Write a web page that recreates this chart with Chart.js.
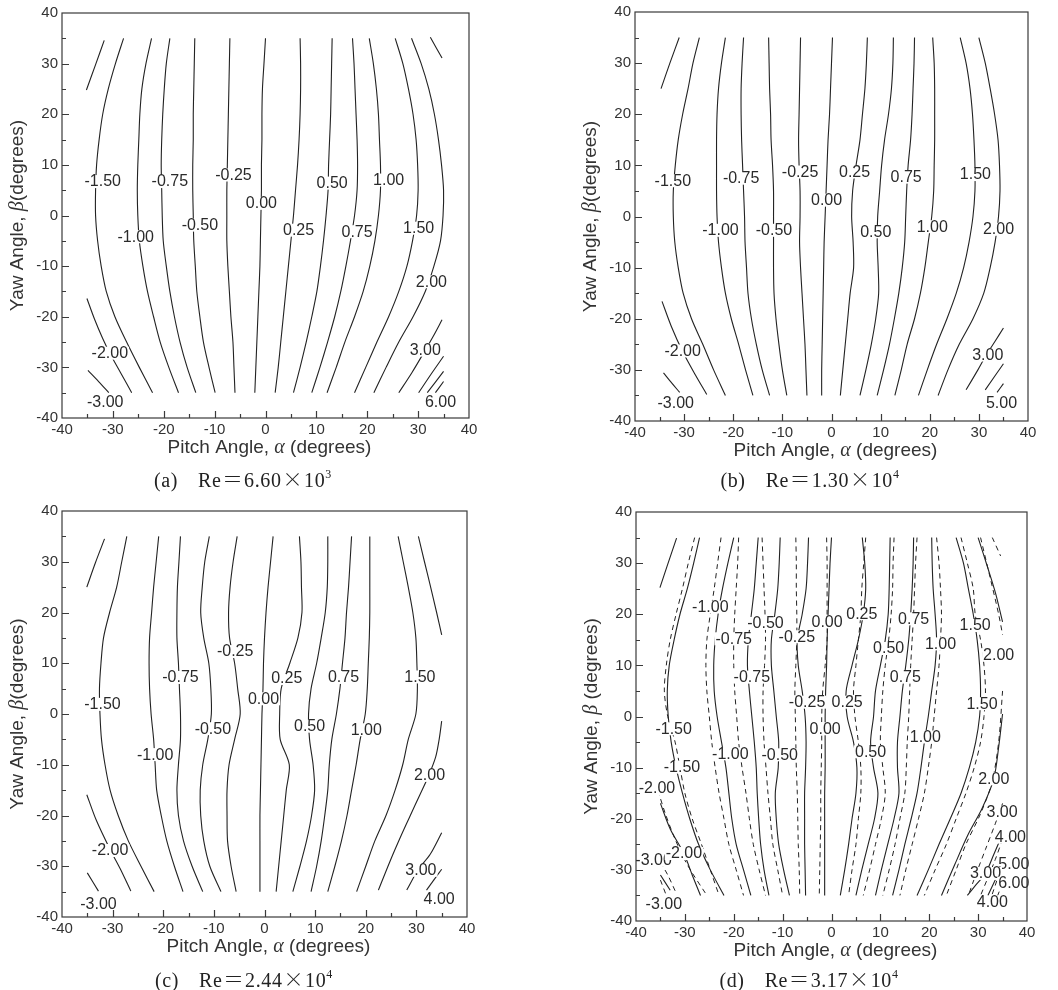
<!DOCTYPE html>
<html>
<head>
<meta charset="utf-8">
<script src="https://cdn.jsdelivr.net/npm/chart.js@4.4.1/dist/chart.umd.min.js"></script>
<style>
  html, body { margin: 0; padding: 0; background: #fff; }
  #page { position: relative; width: 1058px; height: 990px; overflow: hidden; background: #fff; }
  canvas { position: absolute; }
  .cap { position: absolute; z-index: 2; transform: translate(-50%, -50%); white-space: nowrap;
         font-family: "Liberation Serif", "Noto Sans CJK SC", serif; font-size: 20px; color: #222;
         letter-spacing: 0.6px; }
  .cap .gap { display: inline-block; width: 20px; }
  .cap .op { display: inline-block; margin: 0 1px; font-family: "Noto Sans CJK SC", serif; font-weight: 300; }
  .cap sup { font-size: 12px; vertical-align: 9px; line-height: 0; }
</style>
</head>
<body>
<div id="page">
  <canvas id="pa"></canvas>
  <canvas id="pb"></canvas>
  <canvas id="pc"></canvas>
  <canvas id="pd"></canvas>
  <div class="cap" style="left:243px;top:478px">(a)<span class="gap"></span>Re<span class="op">＝</span>6.60<span class="op">×</span>10<sup>3</sup></div>
  <div class="cap" style="left:810px;top:478px">(b)<span class="gap"></span>Re<span class="op">＝</span>1.30<span class="op">×</span>10<sup>4</sup></div>
  <div class="cap" style="left:244px;top:978px">(c)<span class="gap"></span>Re<span class="op">＝</span>2.44<span class="op">×</span>10<sup>4</sup></div>
  <div class="cap" style="left:809px;top:978px">(d)<span class="gap"></span>Re<span class="op">＝</span>3.17<span class="op">×</span>10<sup>4</sup></div>
</div>
<script>
// yaw angle levels where every full contour line is sampled
const yLevels = [35, 30, 25, 20, 15, 10, 5, 0, -5, -10, -15, -20, -25, -30, -35];

// (a) Re = 6.60e3 : pitch angle of each contour at the levels above
// order: -1.50 -1.00 -0.75 -0.50 -0.25 0.00 0.25 0.50 0.75 1.00 1.50 2.00
const aLineX = [
  [-27.9,-29.5,-30.9,-32.0,-32.7,-33.2,-33.4,-33.4,-33.0,-32.3,-31.3,-29.6,-27.3,-24.8,-22.2],
  [-22.4,-23.5,-24.3,-24.7,-24.9,-25.1,-25.2,-25.1,-24.8,-24.1,-23.2,-22.0,-20.7,-19.0,-17.1],
  [-18.8,-19.5,-19.9,-20.2,-20.4,-20.5,-20.4,-20.3,-20.1,-19.5,-18.8,-17.9,-16.8,-15.4,-13.7],
  [-13.9,-14.0,-14.1,-14.2,-14.2,-14.3,-14.3,-14.2,-14.1,-13.8,-13.5,-12.9,-12.2,-11.1,-9.9],
  [-7.0,-7.1,-7.2,-7.3,-7.4,-7.5,-7.6,-7.6,-7.6,-7.4,-7.1,-6.8,-6.4,-6.2,-6.0],
  [0.0,-0.3,-0.6,-0.7,-0.7,-0.8,-0.8,-0.9,-1.0,-1.1,-1.3,-1.5,-1.7,-1.9,-2.1],
  [6.8,6.9,6.9,6.8,6.6,6.3,5.9,5.5,5.0,4.5,4.0,3.5,3.0,2.5,1.9],
  [13.1,13.0,12.9,12.8,12.6,12.4,12.3,11.9,11.4,10.8,10.1,9.1,8.0,6.8,5.5],
  [17.1,17.4,17.6,17.8,18.0,18.1,18.0,17.5,16.7,15.8,14.8,13.6,12.2,10.7,9.1],
  [20.4,21.2,21.8,22.2,22.4,22.6,22.6,22.2,21.5,20.5,19.2,17.5,15.6,13.9,12.1],
  [25.5,27.0,28.1,29.0,29.6,29.9,30.0,29.7,28.9,27.8,26.2,24.2,21.9,19.7,17.5],
  [28.7,30.6,32.1,33.2,34.0,34.6,35.0,34.9,34.4,33.1,31.4,29.0,26.2,23.7,21.3]
];
// short contour pieces near the corners, [pitch, yaw] pairs
const aPartial = [
  [[-31.7,34.6],[-33.4,29.8],[-35.2,24.8]],
  [[32.4,35.2],[34.7,31.1]],
  [[-35.1,-16.4],[-33.6,-20.5],[-32.0,-24.3],[-30.6,-27.2],[-28.4,-31.2],[-26.3,-35.0]],
  [[-34.9,-30.6],[-32.8,-32.8],[-30.8,-35.0]],
  [[34.7,-20.6],[33.0,-23.8],[31.4,-26.6],[28.8,-31.0],[26.2,-35.0]],
  [[35.0,-27.8],[32.5,-31.4],[30.1,-35.0]],
  [[35.0,-30.8],[31.8,-35.0]],
  [[35.0,-32.8],[33.4,-35.0]]
];
const aLabelText = ['-1.50','-0.75','-0.25','-1.00','-0.50','0.00','0.25','0.50','0.75','1.00','1.50','2.00','3.00','6.00','-2.00','-3.00'];
const aLabelX = [-32.0,-18.8,-6.3,-25.5,-12.9,-0.8,6.5,13.1,18.0,24.2,30.1,32.6,31.4,34.4,-30.6,-31.5];
const aLabelY = [6.7,6.7,8.0,-4.2,-1.9,2.4,-2.9,6.4,-3.2,7.0,-2.5,-13.1,-26.6,-36.8,-27.2,-36.8];

// (b) Re = 1.30e4
const bLineX = [
  [-26.9,-28.2,-29.2,-30.3,-31.2,-31.8,-32.2,-32.2,-31.9,-31.2,-30.2,-28.5,-26.2,-24.0,-21.6],
  [-21.6,-22.4,-23.0,-23.3,-23.4,-23.4,-23.4,-23.3,-23.0,-22.4,-21.6,-20.4,-18.9,-17.5,-16.0],
  [-17.9,-18.2,-18.4,-18.4,-18.3,-18.1,-17.9,-17.7,-17.6,-17.3,-17.0,-16.3,-15.3,-14.1,-12.6],
  [-12.8,-12.7,-12.6,-12.4,-12.3,-12.0,-11.8,-11.8,-11.8,-11.8,-11.7,-11.3,-10.7,-10.0,-9.1],
  [-6.3,-6.4,-6.5,-6.6,-6.7,-6.6,-6.4,-6.4,-6.5,-6.3,-6.0,-5.7,-5.4,-5.2,-5.0],
  [0.2,0.0,-0.2,-0.4,-0.7,-0.9,-1.1,-1.3,-1.5,-1.6,-1.7,-1.8,-1.9,-2.0,-2.0],
  [7.3,7.1,6.8,6.3,5.8,5.0,4.3,4.1,4.4,4.5,3.8,3.3,2.8,2.3,1.8],
  [12.6,12.5,12.2,11.6,10.8,10.2,9.8,9.4,9.3,9.5,9.6,9.0,8.1,7.0,5.8],
  [16.9,16.8,16.6,16.4,16.1,15.6,15.3,15.1,14.9,14.4,13.7,12.8,11.8,10.6,9.3],
  [20.6,20.9,21.0,21.0,21.0,20.9,20.8,20.4,19.7,19.0,18.1,16.9,15.4,14.2,12.9],
  [26.2,27.4,28.2,28.7,29.0,29.2,29.2,28.8,28.0,26.9,25.4,23.5,21.4,19.5,17.7],
  [30.0,31.3,32.3,33.2,33.9,34.2,34.3,34.0,33.3,32.3,31.0,28.8,26.0,23.7,21.7]
];
const bPartial = [
  [[-31.0,35.0],[-32.9,30.0],[-34.7,25.0]],
  [[-34.5,-16.6],[-32.6,-21.5],[-30.3,-26.4],[-27.7,-31.0],[-25.4,-34.8]],
  [[-34.2,-30.6],[-32.5,-32.6],[-30.9,-34.4]],
  [[35.0,-21.8],[33.3,-24.4],[31.5,-27.1],[29.8,-30.0],[27.4,-33.9]],
  [[35.0,-28.8],[31.3,-33.9]],
  [[35.0,-32.7],[33.7,-34.4]]
];
const bLabelText = ['-1.50','-0.75','-0.25','-1.00','-0.50','0.00','0.25','0.50','0.75','1.00','1.50','2.00','3.00','5.00','-2.00','-3.00'];
const bLabelX = [-32.3,-18.4,-6.4,-22.6,-11.7,-1.0,4.7,9.0,15.2,20.5,29.3,34.0,31.8,34.6,-30.3,-31.7];
const bLabelY = [7.0,7.5,8.7,-2.7,-2.7,3.2,8.7,-3.0,7.7,-2.0,8.2,-2.5,-27.1,-36.5,-26.3,-36.4];

// (c) Re = 2.44e4 : -1.50 -1.00 -0.75 -0.50 -0.25 0.00 0.25 0.50 0.75 1.00 1.50
const cLineX = [
  [-27.2,-28.2,-29.2,-30.6,-31.8,-32.3,-32.6,-32.5,-32.2,-31.5,-30.5,-28.9,-26.9,-24.4,-21.8],
  [-20.9,-21.4,-21.9,-22.3,-22.7,-22.8,-22.7,-22.4,-21.9,-21.6,-21.3,-20.4,-19.3,-17.8,-16.1],
  [-16.6,-16.9,-17.2,-17.3,-17.3,-17.0,-16.8,-16.6,-16.6,-17.0,-17.3,-17.0,-16.0,-14.3,-12.2],
  [-10.9,-11.8,-12.3,-12.6,-12.0,-11.0,-10.6,-10.5,-11.2,-12.2,-12.7,-12.6,-12.0,-10.8,-8.6],
  [-5.4,-6.2,-6.8,-7.1,-6.9,-5.9,-5.3,-4.8,-5.9,-7.0,-7.4,-7.4,-7.3,-6.6,-5.6],
  [1.7,1.2,0.7,0.3,0.0,-0.2,-0.3,-0.5,-0.6,-0.7,-0.8,-0.9,-0.9,-0.9,-0.9],
  [6.9,7.2,7.3,7.4,6.6,5.0,3.3,3.0,3.1,4.9,4.3,3.8,3.3,2.8,2.3],
  [12.5,12.5,12.4,12.0,11.2,10.3,9.2,8.7,8.9,9.6,9.9,9.3,8.3,7.0,5.6],
  [17.2,16.9,16.6,16.2,15.9,15.4,14.9,14.2,13.3,12.8,12.5,11.9,11.2,10.3,9.2],
  [20.8,20.8,20.8,20.8,20.7,20.5,20.3,19.9,18.9,18.1,17.2,16.3,15.2,13.9,12.5],
  [26.4,27.4,28.4,29.3,29.9,30.1,30.2,29.9,28.4,27.3,25.8,24.0,21.8,20.0,18.2]
];
const cPartial = [
  [[-31.6,34.5],[-33.4,29.8],[-35.1,25.0]],
  [[30.4,35.0],[31.6,30.0],[32.7,25.5],[34.0,20.0],[35.0,15.6]],
  [[35.0,-1.4],[34.5,-5.0],[33.8,-8.5],[32.4,-12.2],[30.7,-15.9],[28.8,-20.0],[27.1,-23.7],[24.8,-29.0],[22.5,-34.7]],
  [[35.0,-23.4],[32.7,-27.7],[30.4,-30.6],[28.1,-34.7]],
  [[35.0,-30.6],[32.0,-34.7]],
  [[-35.1,-15.9],[-33.2,-21.0],[-30.5,-26.7],[-28.5,-30.5],[-26.4,-34.9]],
  [[-35.0,-31.3],[-32.8,-34.9]]
];
const cLabelText = ['-1.50','-0.75','-0.25','-1.00','-0.50','0.00','0.25','0.50','0.75','1.00','1.50','2.00','3.00','4.00','-2.00','-3.00'];
const cLabelX = [-32.0,-16.6,-5.8,-21.6,-10.2,-0.2,4.4,8.9,15.6,20.1,30.7,32.6,30.9,34.5,-30.5,-32.8];
const cLabelY = [1.9,7.2,12.3,-8.0,-2.9,3.0,7.0,-2.4,7.2,-3.1,7.3,-12.1,-30.8,-36.4,-26.9,-37.4];

// (d) Re = 3.17e4 : solid and dashed contour sets
const dLineX = [
  [-27.0,-28.2,-29.5,-31.0,-32.2,-33.2,-33.6,-33.4,-32.8,-31.8,-30.5,-29.0,-27.2,-24.8,-22.0],
  [-20.0,-21.2,-22.3,-23.2,-23.8,-24.1,-24.0,-23.4,-22.5,-21.6,-21.0,-20.4,-19.5,-18.0,-16.5],
  [-15.0,-15.4,-15.8,-16.4,-17.0,-17.2,-16.8,-16.3,-15.8,-15.4,-15.2,-14.9,-14.5,-13.8,-12.8],
  [-10.5,-10.7,-11.0,-11.6,-12.3,-12.3,-11.8,-11.3,-10.8,-10.9,-11.5,-11.3,-10.8,-9.8,-8.6],
  [-4.7,-4.9,-5.2,-6.0,-7.0,-6.8,-6.0,-5.4,-5.2,-5.3,-5.5,-5.5,-5.5,-5.4,-5.3],
  [0.0,-0.3,-0.5,-0.7,-0.9,-1.0,-1.2,-1.3,-1.3,-1.3,-1.4,-1.4,-1.4,-1.4,-1.4],
  [6.3,6.8,7.0,6.5,5.5,4.2,3.0,3.2,4.5,5.2,5.0,4.2,3.5,2.7,1.8],
  [12.0,11.9,11.8,11.6,11.0,10.0,9.0,8.6,8.0,8.6,9.5,8.8,7.5,6.2,5.0],
  [16.8,16.7,16.5,16.2,15.8,15.2,14.5,14.0,13.5,13.5,13.8,12.8,11.5,10.2,9.0],
  [20.5,20.6,20.8,21.2,21.5,21.2,20.5,19.8,19.0,18.3,17.5,16.3,15.0,13.8,12.5],
  [25.5,27.0,28.0,29.0,29.8,30.3,30.5,30.3,29.5,28.2,26.5,24.3,22.0,19.8,17.5]
];
const dPartial = [
  [[-31.7,34.9],[-33.5,29.8],[-35.1,25.2]],
  [[30.0,35.0],[32.0,29.0],[33.6,24.0],[35.0,18.5]],
  [[35.0,0.5],[34.2,-6.0],[33.2,-12.2],[30.8,-18.0],[28.0,-23.0],[25.2,-29.0],[22.5,-35.0]],
  [[35.0,-23.0],[33.2,-27.0],[31.5,-30.7],[29.5,-33.0],[27.8,-35.0]],
  [[35.0,-29.0],[33.5,-32.0],[32.0,-35.0]],
  [[-35.0,-17.0],[-33.0,-22.0],[-30.2,-26.8],[-28.5,-31.0],[-26.8,-35.0]],
  [[-35.0,-31.0],[-33.0,-34.0]]
];
const dDashX = [
  [-28.0,-29.3,-30.5,-31.8,-33.0,-33.8,-34.2,-33.5,-32.0,-31.0,-30.0,-28.5,-26.6,-24.8,-23.0],
  [-22.6,-23.3,-24.0,-24.8,-25.5,-25.7,-25.5,-25.0,-24.5,-23.8,-23.0,-22.0,-21.0,-19.5,-18.0],
  [-19.0,-19.2,-19.5,-19.8,-20.0,-20.0,-19.8,-19.4,-19.0,-18.3,-17.5,-16.8,-16.0,-14.8,-13.5],
  [-14.2,-14.0,-13.8,-13.6,-13.5,-13.7,-14.0,-14.0,-13.8,-13.4,-13.0,-12.5,-12.0,-11.0,-10.0],
  [-7.3,-7.2,-7.2,-7.1,-7.1,-7.3,-7.5,-7.4,-7.3,-7.2,-7.0,-6.9,-6.8,-6.6,-6.5],
  [-1.0,-0.9,-0.9,-0.9,-0.9,-1.3,-1.8,-2.0,-2.0,-2.1,-2.2,-2.2,-2.3,-2.4,-2.5],
  [7.0,6.6,6.2,6.0,5.5,5.0,4.5,4.8,5.5,6.0,6.0,5.5,5.0,4.2,3.5],
  [12.8,12.6,12.5,12.2,11.7,11.0,10.5,10.2,10.0,10.5,11.0,10.2,9.0,7.8,6.5],
  [17.5,17.2,17.0,16.8,16.5,16.2,16.0,15.8,15.5,15.3,15.0,14.0,13.0,11.8,10.5],
  [21.5,22.0,22.3,22.5,22.3,22.0,21.5,21.0,20.5,19.8,19.0,17.8,16.5,15.2,14.0],
  [26.5,27.8,29.0,29.4,30.5,31.2,31.5,31.2,30.5,29.2,27.5,25.5,23.5,21.2,19.0]
];
const dDashPartial = [
  [[30.5,35.0],[32.5,27.0],[34.2,20.0],[35.0,16.0]],
  [[32.9,35.0],[34.6,31.4]],
  [[35.0,5.0],[34.2,-5.0],[32.8,-13.0],[30.5,-19.0],[27.5,-25.0],[25.5,-30.0],[23.5,-35.0]],
  [[35.0,-17.0],[33.5,-21.0],[31.5,-26.0],[29.5,-31.0],[28.0,-35.0]],
  [[35.0,-24.0],[33.5,-28.0],[31.8,-32.0],[30.5,-35.0]],
  [[35.0,-28.8],[32.8,-35.0]],
  [[35.0,-32.6],[34.0,-35.0]],
  [[-35.5,-14.5],[-34.0,-19.0],[-32.0,-24.0],[-29.5,-29.0],[-25.5,-35.0]],
  [[-35.0,-28.5],[-33.5,-31.0],[-31.8,-34.5]],
  [[-35.0,-32.0],[-33.8,-35.0]]
];
const dLabelText = ['-1.00','-0.50','-0.75','-0.25','0.00','0.25','0.75','0.50','1.00','1.50','2.00',
  '-0.75','-0.25','0.25','0.75','1.50','-1.50','0.00','1.00','-1.00','-0.50','0.50',
  '-1.50','-2.00','2.00','3.00','4.00','-3.00','-2.00','5.00','3.00','6.00','4.00','-3.00'];
const dLabelX = [-24.8,-13.5,-20.0,-7.1,-0.9,6.2,16.8,11.7,22.3,29.4,34.2,
  -16.3,-5.0,3.2,15.1,30.8,-32.3,-1.3,19.2,-20.7,-10.6,8.0,
  -30.6,-35.7,33.2,34.9,36.6,-36.4,-30.2,37.3,31.5,37.3,32.9,-34.3];
const dLabelY = [21.4,18.2,15.2,15.6,18.5,20.1,19.1,13.3,14.2,17.8,12.0,
  7.7,2.8,2.8,7.7,2.5,-2.4,-2.4,-4.0,-7.3,-7.5,-6.9,
  -9.9,-14.1,-12.2,-18.7,-23.6,-28.1,-26.8,-28.8,-30.7,-32.6,-36.3,-36.6];

Chart.defaults.font.family = '"Liberation Sans", Arial, sans-serif';
Chart.defaults.color = '#333';

function lineSet(data, dashed) {
  return {
    data: data,
    showLine: true,
    fill: false,
    borderColor: '#222',
    borderWidth: dashed ? 1 : 1.1,
    borderDash: dashed ? [5, 4] : [],
    pointRadius: 0,
    tension: 0.3
  };
}

function contourSets(lines, partials, dashed) {
  const sets = [];
  lines.forEach(xs => sets.push(lineSet(xs.map((x, i) => ({ x: x, y: yLevels[i] })), dashed)));
  partials.forEach(p => sets.push(lineSet(p.map(q => ({ x: q[0], y: q[1] })), dashed)));
  return sets;
}

// box and inward tick marks
const framePlugin = {
  id: 'frame',
  afterDraw(chart) {
    const ctx = chart.ctx, a = chart.chartArea;
    const sx = chart.scales.x, sy = chart.scales.y;
    ctx.save();
    ctx.strokeStyle = '#3a3a3a';
    ctx.lineWidth = 1.2;
    ctx.strokeRect(a.left, a.top, a.right - a.left, a.bottom - a.top);
    ctx.beginPath();
    for (let v = -35; v <= 35; v += 5) {
      const len = v % 10 === 0 ? 7 : 4;
      const px = Math.round(sx.getPixelForValue(v)) + 0.5;
      ctx.moveTo(px, a.bottom);
      ctx.lineTo(px, a.bottom - len);
      const py = Math.round(sy.getPixelForValue(v)) + 0.5;
      ctx.moveTo(a.left, py);
      ctx.lineTo(a.left + len, py);
    }
    ctx.stroke();
    ctx.restore();
  }
};

function drawMixed(ctx, parts, cx, cy, angle) {
  ctx.save();
  ctx.translate(cx, cy);
  ctx.rotate(angle);
  ctx.textBaseline = 'middle';
  ctx.textAlign = 'left';
  let total = 0;
  parts.forEach(p => { ctx.font = p[1]; total += ctx.measureText(p[0]).width; });
  let x = -total / 2;
  parts.forEach(p => {
    ctx.font = p[1];
    ctx.fillText(p[0], x, 0);
    x += ctx.measureText(p[0]).width;
  });
  ctx.restore();
}

const SANS = '19px "Liberation Sans", Arial, sans-serif';
const GREEK = 'italic 20px "Liberation Serif", serif';

function titlePlugin(yGap) {
  return {
    id: 'titles',
    afterDraw(chart) {
      const ctx = chart.ctx, a = chart.chartArea;
      ctx.save();
      ctx.fillStyle = '#333';
      drawMixed(ctx, [['Pitch Angle, ', SANS], ['\u03b1', GREEK], [' (degrees)', SANS]],
        (a.left + a.right) / 2 + 4, a.bottom + 30, 0);
      drawMixed(ctx, [['Yaw Angle, ', SANS], ['\u03b2', GREEK], [yGap + '(degrees)', SANS]],
        a.left - 44, (a.top + a.bottom) / 2, -Math.PI / 2);
      ctx.restore();
    }
  };
}

function labelPlugin(texts, xs, ys) {
  return {
    id: 'contourLabels',
    afterDatasetsDraw(chart) {
      const ctx = chart.ctx;
      const sx = chart.scales.x, sy = chart.scales.y;
      ctx.save();
      ctx.font = '16px "Liberation Sans", Arial, sans-serif';
      ctx.textAlign = 'center';
      ctx.textBaseline = 'middle';
      texts.forEach((t, i) => {
        const px = sx.getPixelForValue(xs[i]);
        const py = sy.getPixelForValue(ys[i]);
        const w = ctx.measureText(t).width;
        ctx.fillStyle = '#fff';
        ctx.fillRect(px - w / 2 - 1, py - 6.5, w + 2, 13);
        ctx.fillStyle = '#2a2a2a';
        ctx.fillText(t, px, py + 0.5);
      });
      ctx.restore();
    }
  };
}

function makePanel(id, area, datasets, texts, xs, ys, yGap) {
  const c = document.getElementById(id);
  c.width = area.r - area.l + 62 + 12;
  c.height = area.b - area.t + 13 + 52;
  c.style.left = (area.l - 62) + 'px';
  c.style.top = (area.t - 13) + 'px';
  new Chart(c, {
    type: 'scatter',
    data: { datasets: datasets },
    options: {
      responsive: false,
      animation: false,
      layout: { padding: { left: 0, top: 13, right: 12, bottom: 0 } },
      plugins: { legend: { display: false }, tooltip: { enabled: false } },
      scales: {
        x: {
          type: 'linear', min: -40, max: 40,
          grid: { display: false, drawTicks: false },
          border: { display: false },
          ticks: { stepSize: 10, autoSkip: false, maxRotation: 0, padding: 3,
                   font: { size: 15 }, color: '#333' },
          afterFit(s) { s.height = 52; }
        },
        y: {
          type: 'linear', min: -40, max: 40,
          grid: { display: false, drawTicks: false },
          border: { display: false },
          ticks: { stepSize: 10, autoSkip: false, padding: 4,
                   font: { size: 15 }, color: '#333' },
          afterFit(s) { s.width = 62; }
        }
      }
    },
    plugins: [framePlugin, labelPlugin(texts, xs, ys), titlePlugin(yGap)]
  });
}

makePanel('pa', { l: 62, t: 13, r: 469, b: 418 },
  contourSets(aLineX, aPartial, false), aLabelText, aLabelX, aLabelY, '');
makePanel('pb', { l: 635, t: 12, r: 1028, b: 421 },
  contourSets(bLineX, bPartial, false), bLabelText, bLabelX, bLabelY, '');
makePanel('pc', { l: 62, t: 511, r: 467, b: 917 },
  contourSets(cLineX, cPartial, false), cLabelText, cLabelX, cLabelY, '');
makePanel('pd', { l: 636, t: 512, r: 1027, b: 921 },
  contourSets(dLineX, dPartial, false).concat(contourSets(dDashX, dDashPartial, true)),
  dLabelText, dLabelX, dLabelY, ' ');
</script>
</body>
</html>
